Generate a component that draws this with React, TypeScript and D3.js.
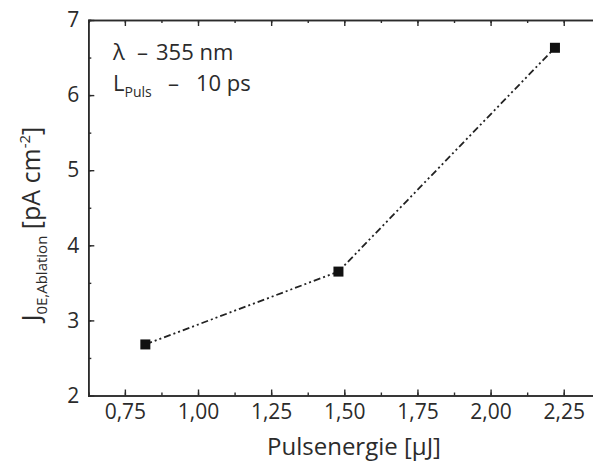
import * as d3 from "d3";
import React, { useEffect, useRef } from "react";

// data
const pulsEnergie = [0.82, 1.48, 2.22];
const stromDichte = [2.68, 3.65, 6.63];
const xTicks = [0.75, 1.0, 1.25, 1.5, 1.75, 2.0, 2.25];
const yTicks = [2, 3, 4, 5, 6, 7];

function App() {
  const ref = useRef<SVGSVGElement>(null);

  useEffect(() => {
    const svg = d3.select(ref.current);
    svg.selectAll("*").remove();

    const width = 593;
    const height = 462;
    const margin = { top: 20, left: 88.3 };
    const iwidth = 512;
    const iheight = 375.5;
    const ink = "#2b2b2b";
    const font = "'Open Sans', sans-serif";

    const x = d3.scaleLinear().domain([0.625, 2.375]).range([0, iwidth]);
    const y = d3.scaleLinear().domain([2, 7]).range([iheight, 0]);

    const graph = svg
      .append("g")
      .attr("transform", `translate(${margin.left}, ${margin.top})`);

    const fmt = (d: any) => d3.format(".2f")(d).replace(".", ",");
    const xMinor = d3.range(0.625, 2.38, 0.125);
    const yMinor = d3.range(2, 7.01, 0.5);

    // minor ticks
    graph.append("g").attr("transform", `translate(0, ${iheight})`)
      .call(d3.axisBottom(x).tickValues(xMinor).tickSize(-3).tickFormat(() => ""));
    graph.append("g")
      .call(d3.axisTop(x).tickValues(xMinor).tickSize(-3).tickFormat(() => ""));
    graph.append("g")
      .call(d3.axisLeft(y).tickValues(yMinor).tickSize(-3).tickFormat(() => ""));

    // major ticks with labels
    graph.append("g").attr("class", "x--axis").attr("transform", `translate(0, ${iheight})`)
      .call(d3.axisBottom(x).tickValues(xTicks).tickSizeInner(-6).tickSizeOuter(0).tickPadding(9).tickFormat(fmt));
    graph.append("g")
      .call(d3.axisTop(x).tickValues(xTicks).tickSizeInner(-6).tickSizeOuter(0).tickFormat(() => ""));
    graph.append("g").attr("class", "y--axis")
      .call(d3.axisLeft(y).tickValues(yTicks).tickSizeInner(-6).tickSizeOuter(0).tickPadding(9).tickFormat(d3.format("d")));
    graph.append("g").attr("transform", `translate(${iwidth}, 0)`)
      .call(d3.axisRight(y).tickValues(yTicks).tickSizeInner(-6).tickSizeOuter(0).tickFormat(() => ""));

    graph.selectAll(".domain").attr("stroke", ink).attr("stroke-width", 1.6);
    graph.selectAll(".tick line").attr("stroke", ink).attr("stroke-width", 1.4);
    graph.selectAll(".tick text")
      .attr("fill", ink)
      .style("font-family", font)
      .style("font-size", "21px");

    const pts = pulsEnergie.map((d, i) => [d, stromDichte[i]] as [number, number]);
    const line = d3.line<[number, number]>().x(d => x(d[0])).y(d => y(d[1]));

    graph.append("path")
      .datum(pts)
      .attr("d", line)
      .attr("fill", "none")
      .attr("stroke", "#222")
      .attr("stroke-width", 1.8)
      .attr("stroke-dasharray", "7,3,2,3,2,3");

    graph.selectAll("rect.pt").data(pts).enter().append("rect")
      .attr("class", "pt")
      .attr("x", d => x(d[0]) - 5)
      .attr("y", d => y(d[1]) - 5)
      .attr("width", 10)
      .attr("height", 10)
      .attr("fill", "#111");

    // annotation
    const ann = svg.append("g").attr("fill", ink).style("font-family", font).style("font-size", "22px");
    const l1 = ann.append("text").attr("y", 60);
    l1.append("tspan").attr("x", 113).text("\u03bb");
    l1.append("tspan").attr("x", 137).text("\u2013");
    l1.append("tspan").attr("x", 156).text("355 nm");
    const l2 = ann.append("text").attr("y", 91);
    l2.append("tspan").attr("x", 113).text("L");
    l2.append("tspan").attr("dy", 6).style("font-size", "14px").text("Puls");
    l2.append("tspan").attr("x", 168).attr("dy", -6).text("\u2013");
    l2.append("tspan").attr("x", 196).text("10 ps");

    // axis titles
    svg.append("text")
      .attr("x", 354)
      .attr("y", 455)
      .attr("text-anchor", "middle")
      .attr("fill", ink)
      .style("font-family", font)
      .style("font-size", "24px")
      .text("Pulsenergie [\u00b5J]");

    const yt = svg.append("text")
      .attr("transform", "translate(40, 224) rotate(-90)")
      .attr("text-anchor", "middle")
      .attr("fill", ink)
      .style("font-family", font)
      .style("font-size", "25px");
    yt.append("tspan").text("J");
    yt.append("tspan").attr("dy", 7).style("font-size", "15px").text("0E,Ablation");
    yt.append("tspan").attr("dy", -7).text(" [pA cm");
    yt.append("tspan").attr("dy", -10).style("font-size", "15px").text("-2");
    yt.append("tspan").attr("dy", 10).text("]");

    svg.attr("width", width).attr("height", height);
  }, []);

  return (
    <div style={{ position: "absolute", left: 0, top: 0 }}>
      <svg ref={ref} width={593} height={462} style={{ display: "block", background: "#fff" }}></svg>
    </div>
  );
}

export default App;
